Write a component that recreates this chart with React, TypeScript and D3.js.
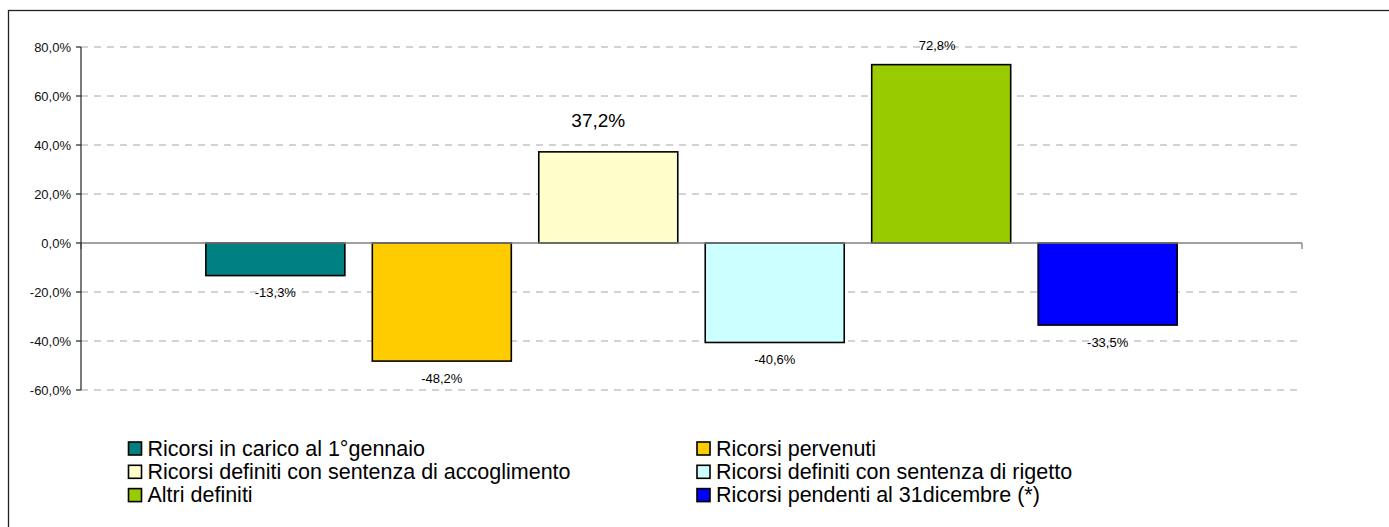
import React from 'react';
import * as d3 from 'd3';

const seriesNames = [
    'Ricorsi in carico al 1°gennaio',
    'Ricorsi pervenuti',
    'Ricorsi definiti con sentenza di accoglimento',
    'Ricorsi definiti con sentenza di rigetto',
    'Altri definiti',
    'Ricorsi pendenti al 31dicembre (*)',
];
const seriesValues = [-13.3, -48.2, 37.2, -40.6, 72.8, -33.5];
const seriesColors = ['#008080', '#FFCC00', '#FFFFCC', '#CCFFFF', '#99CC00', '#0000FF'];
const yTicks = [-60, -40, -20, 0, 20, 40, 60, 80];

const W = 1389;
const H = 527;
const plot = { left: 81, right: 1302, top: 47, bottom: 390 };
const font = '"Liberation Sans", Arial, sans-serif';

const fmt = (v: number) => v.toFixed(1).replace('.', ',') + '%';

export default function App() {
    const y = d3.scaleLinear().domain([-60, 80]).range([plot.bottom, plot.top]);
    const x = d3
        .scaleBand()
        .domain(seriesNames)
        .range([plot.left, plot.right])
        .paddingInner(0.165)
        .paddingOuter(0.75);
    const y0 = y(0);

    // label placement: below negative bars, above positive; the 37,2% one was moved up and enlarged
    const labelPos = (v: number, i: number) => {
        if (i === 2) return { dy: -31, dx: -10, size: 19 };
        return v < 0 ? { dy: 17, dx: 0, size: 13 } : { dy: -19, dx: -4, size: 13 };
    };

    return (
        <svg
            width={W}
            height={H}
            style={{ position: 'absolute', left: 0, top: 0, background: '#fff' }}
            fontFamily={font}
        >
            <rect x={8.5} y={10.5} width={W + 10} height={H + 10} fill="#fff" stroke="#222" strokeWidth={1.3} />

            {/* gridlines */}
            {yTicks.filter((t) => t !== 0).map((t) => (
                <line
                    key={'g' + t}
                    x1={plot.left}
                    x2={plot.right}
                    y1={y(t)}
                    y2={y(t)}
                    stroke="#a6a6a6"
                    strokeDasharray="7,6"
                />
            ))}

            {/* bars */}
            {seriesValues.map((v, i) => (
                <rect
                    key={'b' + i}
                    x={x(seriesNames[i])}
                    y={Math.min(y(v), y0)}
                    width={x.bandwidth()}
                    height={Math.abs(y(v) - y0)}
                    fill={seriesColors[i]}
                    stroke="#000"
                    strokeWidth={1.6}
                />
            ))}

            {/* zero line + category ticks */}
            <line x1={plot.left} x2={plot.right} y1={y0} y2={y0} stroke="#808080" strokeWidth={1.3} />
            <line x1={plot.left} x2={plot.left} y1={y0} y2={y0 + 6} stroke="#808080" strokeWidth={1.3} />
            <line x1={plot.right} x2={plot.right} y1={y0} y2={y0 + 6} stroke="#808080" strokeWidth={1.3} />

            {/* y axis */}
            <line x1={plot.left} x2={plot.left} y1={plot.top} y2={plot.bottom} stroke="#222" strokeWidth={1.2} />
            {yTicks.map((t) => (
                <g key={'t' + t}>
                    <line x1={plot.left - 5} x2={plot.left} y1={y(t)} y2={y(t)} stroke="#222" strokeWidth={1.2} />
                    <text
                        x={plot.left - 10}
                        y={y(t)}
                        textAnchor="end"
                        dominantBaseline="central"
                        fontSize={13}
                        fill="#111"
                    >
                        {fmt(t)}
                    </text>
                </g>
            ))}

            {/* data labels */}
            {seriesValues.map((v, i) => {
                const p = labelPos(v, i);
                return (
                    <text
                        key={'l' + i}
                        x={(x(seriesNames[i]) as number) + x.bandwidth() / 2 + p.dx}
                        y={y(v) + p.dy}
                        textAnchor="middle"
                        dominantBaseline="central"
                        fontSize={p.size}
                        fill="#000"
                    >
                        {fmt(v)}
                    </text>
                );
            })}

            {/* legend */}
            {seriesNames.map((name, i) => {
                const col = i % 2;
                const row = Math.floor(i / 2);
                const lx = col === 0 ? 128.5 : 697;
                const ly = 448.5 + row * 23.3;
                return (
                    <g key={'lg' + i}>
                        <rect x={lx} y={ly - 6.5} width={13} height={13} fill={seriesColors[i]} stroke="#000" strokeWidth={1.6} />
                        <text x={lx + 19} y={ly} dominantBaseline="central" fontSize={21.5} fill="#000">
                            {name}
                        </text>
                    </g>
                );
            })}
        </svg>
    );
}
